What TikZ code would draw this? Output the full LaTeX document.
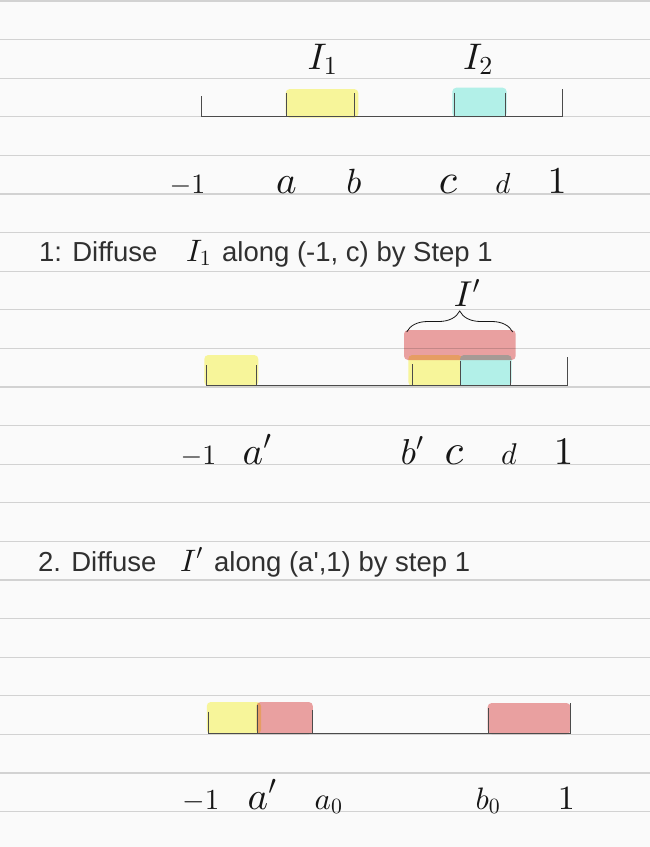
\documentclass[tikz,border=0pt]{standalone}
\DeclareFontShape{OML}{cmm}{m}{it}{<->cmmi10}{}
\DeclareFontShape{OT1}{cmr}{m}{n}{<->cmr10}{}
\DeclareFontShape{OMS}{cmsy}{m}{n}{<->cmsy10}{}
\DeclareFontShape{OMX}{cmex}{m}{n}{<->cmex10}{}
\usepackage{fontspec}
\newfontfamily\uifont{Liberation Sans}
\usetikzlibrary{decorations.pathreplacing}
\definecolor{bg}{RGB}{250,250,250}
\definecolor{rulec}{RGB}{210,210,210}
\definecolor{hy}{RGB}{247,245,154}
\definecolor{hc}{RGB}{178,240,232}
\definecolor{hr}{RGB}{238,164,164}
\definecolor{ink}{RGB}{22,22,22}
\definecolor{axisc}{RGB}{75,75,75}
\definecolor{txt}{RGB}{48,48,48}
\newcommand{\fsz}[1]{\fontsize{#1}{#1}\selectfont}
\begin{document}
\begin{tikzpicture}[x=1pt,y=-1pt,
  ruleline/.style={draw=rulec,line width=1.1pt},
  yelbox/.style={fill=hy,rounded corners=4pt},
  cyabox/.style={fill=hc,rounded corners=4pt},
  redbox/.style={fill=hr,rounded corners=4pt},
  axisline/.style={draw=axisc,line width=1.3pt},
  tickline/.style={draw=axisc,line width=1pt},
  lab/.style={anchor=base,inner sep=0pt,text=ink},
  head/.style={anchor=base west,inner sep=0pt,text=txt,font=\uifont\fsz{27.5}},
  bracec/.style={draw=ink,line width=0.8pt,decorate,decoration={brace,amplitude=21pt}},
]
% background and ruled paper
\fill[bg] (0,0) rectangle (650,847);
\useasboundingbox (0,0) rectangle (650,847);
\foreach \k in {0,...,21}{
  \draw[ruleline] (0,{1+38.6*\k}) -- (650,{1+38.6*\k});
}

% ---------------- Diagram 1 ----------------
\fill[yelbox] (285.7,89) rectangle (358.3,117.7);
\fill[cyabox] (452.3,87.7) rectangle (506.7,117);
\coordinate (A1L) at (201,116.5);
\coordinate (A1R) at (562.5,116.5);
\draw[axisline] (A1L) -- (A1R);
\coordinate (t1a) at (201,96);     \coordinate (t1ab) at (201,116.5);
\coordinate (t1b) at (286.3,93);   \coordinate (t1bb) at (286.3,116.5);
\coordinate (t1c) at (354,93);     \coordinate (t1cb) at (354,116.5);
\coordinate (t1d) at (454.3,92.7); \coordinate (t1db) at (454.3,116.5);
\coordinate (t1e) at (505,92.7);   \coordinate (t1eb) at (505,116.5);
\coordinate (t1f) at (562.3,89.3); \coordinate (t1fb) at (562.3,116.5);
\foreach \p in {t1a,t1b,t1c,t1d,t1e,t1f}{\draw[tickline] (\p) -- (\p b);}
\node[lab,font=\fsz{37}] (I1) at (322.5,69) {$I_1$};
\node[lab,font=\fsz{37}] (I2) at (478,69) {$I_2$};
\node[lab,font=\fsz{28}] (l1m) at (187.5,193) {$-1$};
\node[lab,font=\fsz{39}] (l1a) at (286.5,193) {$a$};
\node[lab,font=\fsz{35}] (l1b) at (354,193) {$b$};
\node[lab,font=\fsz{42}] (l1c) at (448,193) {$c$};
\node[lab,font=\fsz{29}] (l1d) at (503,193) {$d$};
\node[lab,font=\fsz{38}] (l1p) at (557,193) {$1$};

% ---------------- Heading 1 ----------------
\node[head] (h1a) at (39,261) {1: Diffuse};
\node[lab,anchor=base west,font=\fsz{31}] (h1b) at (186,261) {$I_1$};
\node[head] (h1c) at (222,261) {along (-1, c) by Step 1};

% ---------------- Diagram 2 ----------------
\fill[yelbox] (204.3,355) rectangle (258.3,386);
\fill[yelbox] (408.3,355) rectangle (462,386);
\fill[cyabox] (460,355) rectangle (511.7,386);
\begin{scope}[blend mode=multiply]
\fill[redbox] (404,330) rectangle (515.7,360);
\end{scope}
\coordinate (A2L) at (206,385.5);
\coordinate (A2R) at (567.3,385.5);
\draw[axisline] (A2L) -- (A2R);
\coordinate (t2a) at (206,365);     \coordinate (t2ab) at (206,385.5);
\coordinate (t2b) at (256,365);     \coordinate (t2bb) at (256,385.5);
\coordinate (t2c) at (412.7,364);   \coordinate (t2cb) at (412.7,385.5);
\coordinate (t2d) at (460,360.7);   \coordinate (t2db) at (460,385.5);
\coordinate (t2e) at (510,360.7);   \coordinate (t2eb) at (510,385.5);
\coordinate (t2f) at (567.3,357.3); \coordinate (t2fb) at (567.3,385.5);
\foreach \p in {t2a,t2b,t2c,t2d,t2e,t2f}{\draw[tickline] (\p) -- (\p b);}
\coordinate (brL) at (406.7,332);
\coordinate (brR) at (512.7,332);
\draw[bracec] (brL) -- (brR);
\node[lab,font=\fsz{36}] (Ip) at (467,306.7) {$I'$};
\node[lab,font=\fsz{28}] (l2m) at (198.4,464) {$-1$};
\node[lab,font=\fsz{39}] (l2a) at (257,464) {$a'$};
\node[lab,font=\fsz{36}] (l2b) at (412,464) {$b'$};
\node[lab,font=\fsz{43}] (l2c) at (454,464) {$c$};
\node[lab,font=\fsz{30}] (l2d) at (509,464) {$d$};
\node[lab,font=\fsz{39}] (l2p) at (563.7,464) {$1$};

% ---------------- Heading 2 ----------------
\node[head] (h2a) at (38,571) {2. Diffuse};
\node[lab,anchor=base west,font=\fsz{31}] (h2b) at (180,571) {$I'$};
\node[head] (h2c) at (214,571) {along (a\textquotesingle,1) by step 1};

% ---------------- Diagram 3 ----------------
\fill[yelbox] (206.8,702) rectangle (261,734);
\begin{scope}[blend mode=multiply]
\fill[redbox] (256.5,702) rectangle (312.8,734);
\fill[redbox] (487.7,703) rectangle (570.5,734);
\end{scope}
\coordinate (A3L) at (208,733.5);
\coordinate (A3R) at (570,733.5);
\draw[axisline] (A3L) -- (A3R);
\coordinate (t3a) at (208.3,711.7); \coordinate (t3ab) at (208.3,733.5);
\coordinate (t3b) at (257.5,705);   \coordinate (t3bb) at (257.5,733.5);
\coordinate (t3c) at (312.5,710);   \coordinate (t3cb) at (312.5,733.5);
\coordinate (t3d) at (488.5,708);   \coordinate (t3db) at (488.5,733.5);
\coordinate (t3e) at (570,703);     \coordinate (t3eb) at (570,733.5);
\foreach \p in {t3a,t3b,t3c,t3d,t3e}{\draw[tickline] (\p) -- (\p b);}
\node[lab,font=\fsz{29}] (l3m) at (200.8,809) {$-1$};
\node[lab,font=\fsz{39}] (l3a) at (262,809) {$a'$};
\node[lab,font=\fsz{31}] (l3a0) at (328.6,809) {$a_0$};
\node[lab,font=\fsz{31}] (l3b0) at (488,809) {$b_0$};
\node[lab,font=\fsz{34}] (l3p) at (566.3,809) {$1$};
\end{tikzpicture}
\end{document}
